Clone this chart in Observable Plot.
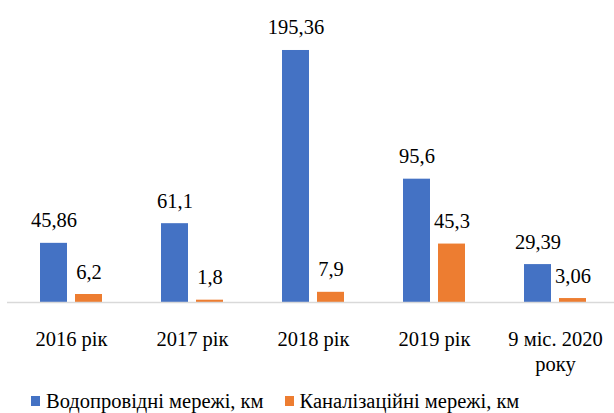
<!DOCTYPE html>
<html>
<head>
<meta charset="utf-8">
<script src="https://cdn.jsdelivr.net/npm/d3@7"></script>
<script src="https://cdn.jsdelivr.net/npm/@observablehq/plot@0.6"></script>
<style>
  body { margin: 0; background: #fff; font-family: 'Liberation Serif', serif; }
  #chart { width: 614px; height: 413px; overflow: hidden; font-family: 'Liberation Serif', serif; }
  .legend { display: flex; align-items: center; padding-left: 31px; padding-top: 7px; height: 24px; line-height: 24px; font-size: 20.5px; color: #000; }
  .legend .item { display: flex; align-items: center; margin-right: 21px; }
  .legend .sw { width: 9px; height: 10px; margin-right: 6px; }
</style>
</head>
<body>
<div id="chart"></div>
<script>
const categories = ["2016 рік", "2017 рік", "2018 рік", "2019 рік", "9 міс. 2020 року"];
const waterValues = [45.86, 61.1, 195.36, 95.6, 29.39];
const sewerValues = [6.2, 1.8, 7.9, 45.3, 3.06];
const seriesNames = ["Водопровідні мережі, км", "Каналізаційні мережі, км"];
const seriesColors = ["#4472C4", "#ED7D31"];

const water = categories.map((c, i) => ({category: c, value: waterValues[i]}));
const sewer = categories.map((c, i) => ({category: c, value: sewerValues[i]}));
const fmt = v => String(v).replace(".", ",");
const serif = "Liberation Serif";

const plot = Plot.plot({
  width: 614,
  height: 382,
  marginTop: 44,
  marginBottom: 80,
  marginLeft: 7,
  marginRight: 0,
  style: {fontFamily: serif, fontSize: "20.5px", color: "#000", background: "#fff"},
  x: {domain: categories, range: [9, 617], paddingInner: 0.49, paddingOuter: 0.245, label: null},
  y: {domain: [0, 200], axis: null},
  marks: [
    Plot.barY(water, {x: "category", y: "value", fill: seriesColors[0], insetRight: 35, insetLeft: 0}),
    Plot.barY(sewer, {x: "category", y: "value", fill: seriesColors[1], insetLeft: 35, insetRight: 0}),
    Plot.ruleY([0], {stroke: "#d9d9d9", strokeWidth: 1.5}),
    Plot.text(water, {x: "category", y: "value", text: d => fmt(d.value), dx: -17.5, dy: -16, lineAnchor: "bottom", fill: "#000", fontSize: 20.5, fontFamily: serif}),
    Plot.text(sewer, {x: "category", y: "value", text: d => fmt(d.value), dx: 17.5, dy: -16, lineAnchor: "bottom", fill: "#000", fontSize: 20.5, fontFamily: serif}),
    Plot.axisX({tickSize: 0, tickPadding: 26, fontSize: 20.5, fontFamily: serif, fill: "#000", label: null,
      tickFormat: d => d.replace(" року", "\nроку"), lineHeight: 1.2})
  ]
});
const chart = document.getElementById("chart");
chart.appendChild(plot);

const legend = document.createElement("div");
legend.className = "legend";
seriesNames.forEach((name, i) => {
  const item = document.createElement("div");
  item.className = "item";
  const sw = document.createElement("span");
  sw.className = "sw";
  sw.style.background = seriesColors[i];
  const t = document.createElement("span");
  t.textContent = name;
  item.appendChild(sw);
  item.appendChild(t);
  legend.appendChild(item);
});
chart.appendChild(legend);
</script>
</body>
</html>
